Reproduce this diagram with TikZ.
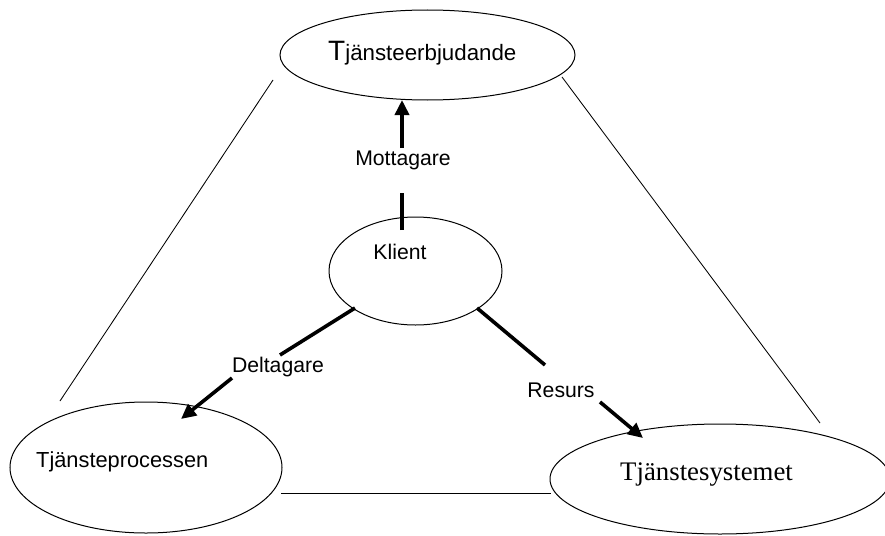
\documentclass[tikz,border=0pt]{standalone}
\usepackage{fontspec}
\setmainfont{Liberation Sans}
\newfontfamily\timesfont{Liberation Serif}
\usetikzlibrary{shapes.geometric,arrows.meta}
\tikzset{
  oval/.style={draw, ellipse, line width=1pt, inner sep=0pt},
  thin line/.style={line width=0.85pt},
  thick link/.style={line width=3.6pt},
  thick arrow/.style={line width=3.6pt, -{Triangle[length=15pt,width=14pt]}},
  lbl/.style={inner sep=0pt, font=\fontsize{21.2}{24}\selectfont}
}
\begin{document}
\begin{tikzpicture}[x=1pt,y=-1pt]
\useasboundingbox (0,0) rectangle (885,535);
% ellipses
\node[oval, minimum width=295pt, minimum height=90pt] (top) at (427.5,55) {};
\node[oval, minimum width=173pt, minimum height=108pt] (klient) at (415.5,271) {};
\node[oval, minimum width=272pt, minimum height=131pt] (proc) at (146,467.5) {};
\node[oval, minimum width=340pt, minimum height=110pt] (sys) at (720,479) {};
% texts
\node[inner sep=0pt, anchor=base west] (toptext) at (328,60)
  {{\fontsize{28}{30}\selectfont T}{\fontsize{22.3}{26}\selectfont jänsteerbjudande}};
\node[lbl] (klienttext) at (400,252) {Klient};
\node[inner sep=0pt, anchor=base west, font=\fontsize{21.8}{24}\selectfont] (proctext) at (36,467) {Tjänsteprocessen};
\node[inner sep=0pt, anchor=base west, font=\timesfont\fontsize{26.8}{30}\selectfont] (systext) at (620,480) {Tjänstesystemet};
% labels
\node[lbl] (mott) at (403,160) {Mottagare};
\node[lbl] (delt) at (278,367) {Deltagare};
\node[lbl] (res) at (561,390) {Resurs};
% coordinates for arrow segments
\coordinate (m1) at (402,230);
\coordinate (m2) at (402,193);
\coordinate (m3) at (402,148);
\coordinate (m4) at (402,100);
\coordinate (d1) at (355,308);
\coordinate (d2) at (280,355);
\coordinate (d3) at (232,378);
\coordinate (d4) at (181,419);
\coordinate (r1) at (477,308);
\coordinate (r2) at (545,365);
\coordinate (r3) at (600,402);
\coordinate (r4) at (643,438);
\draw[thick link] (m1) -- (m2);
\draw[thick arrow] (m3) -- (m4);
\draw[thick link] (d1) -- (d2);
\draw[thick arrow] (d3) -- (d4);
\draw[thick link] (r1) -- (r2);
\draw[thick arrow] (r3) -- (r4);
% thin lines
\coordinate (l1) at (273,80);
\coordinate (l2) at (60,401);
\coordinate (rr1) at (562,77);
\coordinate (rr2) at (820,423);
\coordinate (b1) at (281,493);
\coordinate (b2) at (551,493);
\draw[thin line] (l1) -- (l2);
\draw[thin line] (rr1) -- (rr2);
\draw[thin line] (b1) -- (b2);
\end{tikzpicture}
\end{document}
